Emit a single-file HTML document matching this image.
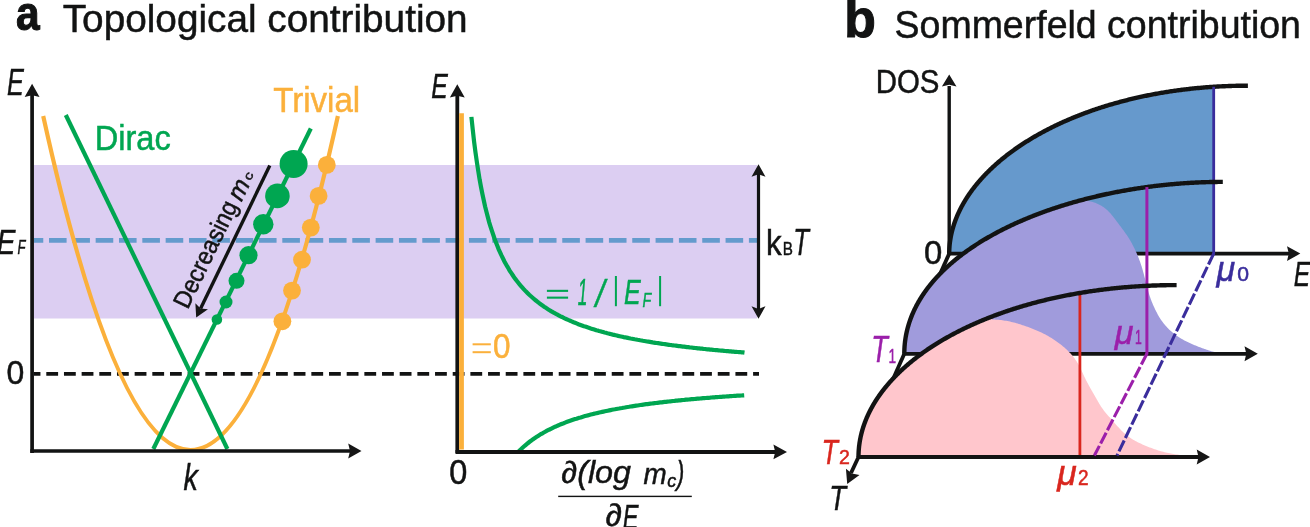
<!DOCTYPE html>
<html><head><meta charset="utf-8"><style>
html,body{margin:0;padding:0;background:#fff;}
svg{display:block;will-change:transform;}
text{font-family:"Liberation Sans",sans-serif;font-kerning:normal;stroke-width:0.5px;}
</style></head><body>
<svg width="1310" height="527" viewBox="0 0 1310 527">
<rect width="1310" height="527" fill="#fff"/>
<rect x="34" y="165" width="723" height="153.5" fill="#DCCEF2"/>
<line x1="34" y1="240.45" x2="757" y2="240.45" stroke="#649BCD" stroke-width="4.7" stroke-dasharray="17.6 5.73" stroke-dashoffset="8.33"/>
<line x1="34" y1="373.9" x2="759" y2="373.9" stroke="#121313" stroke-width="3.7" stroke-dasharray="11.8 5.87" stroke-dashoffset="5.37"/>
<line x1="32.1" y1="453" x2="32.1" y2="94" stroke="#121313" stroke-width="3.7"/>
<path transform="translate(32.10,83.70) rotate(-90.00)" d="M0,0 L-13.3,-7.45 L-11.5,0 L-13.3,7.45 Z" fill="#161616"/>
<path d="M43.20,116 Q190.54,784.00 337.88,116" fill="none" stroke="#FBB03B" stroke-width="4.2"/>
<line x1="65.8" y1="115" x2="227.4" y2="449" stroke="#00A651" stroke-width="4.2"/>
<line x1="153.3" y1="449" x2="310.8" y2="128.5" stroke="#00A651" stroke-width="4.2"/>
<circle cx="293.6" cy="164.0" r="14" fill="#00A651"/>
<circle cx="277.4" cy="195.9" r="12.3" fill="#00A651"/>
<circle cx="263.3" cy="224.3" r="10.2" fill="#00A651"/>
<circle cx="248.5" cy="255.2" r="9.1" fill="#00A651"/>
<circle cx="236.5" cy="280.8" r="8" fill="#00A651"/>
<circle cx="226.0" cy="302.0" r="6.5" fill="#00A651"/>
<circle cx="216.9" cy="319.5" r="5.3" fill="#00A651"/>
<circle cx="326.8" cy="164.9" r="8.9" fill="#FBB03B"/>
<circle cx="318.6" cy="195.9" r="8.9" fill="#FBB03B"/>
<circle cx="310.8" cy="227.6" r="8.9" fill="#FBB03B"/>
<circle cx="302.0" cy="259.7" r="8.9" fill="#FBB03B"/>
<circle cx="292.0" cy="290.6" r="8.9" fill="#FBB03B"/>
<circle cx="282.4" cy="321.3" r="8.9" fill="#FBB03B"/>
<line x1="30.3" y1="451" x2="352" y2="451" stroke="#121313" stroke-width="3.6"/>
<path transform="translate(361.50,451.00) rotate(0.00)" d="M0,0 L-13.3,-7.45 L-11.5,0 L-13.3,7.45 Z" fill="#161616"/>
<line x1="269.8" y1="165.5" x2="200.6" y2="308.6" stroke="#121313" stroke-width="3.4"/>
<path transform="translate(196.20,317.50) rotate(115.90)" d="M0,0 L-12.5,-7 L-10.0,0 L-12.5,7 Z" fill="#161616"/>
<line x1="457.3" y1="453" x2="457.3" y2="95" stroke="#121313" stroke-width="3.8"/>
<path transform="translate(457.30,84.30) rotate(-90.00)" d="M0,0 L-13.3,-7.45 L-11.5,0 L-13.3,7.45 Z" fill="#161616"/>
<line x1="461.5" y1="113.2" x2="461.5" y2="449.5" stroke="#FBB03B" stroke-width="4.8"/>
<polyline fill="none" stroke="#00A651" stroke-width="4.2" points="471.4,116.9 472.8,130.0 474.1,141.8 475.5,152.6 476.9,162.3 478.3,171.3 479.6,179.5 481.0,187.0 482.4,194.0 483.8,200.5 485.1,206.5 486.5,212.1 487.9,217.4 489.2,222.3 490.6,226.9 492.0,231.2 493.4,235.3 494.7,239.2 496.1,242.8 497.5,246.3 498.8,249.6 500.2,252.7 501.6,255.7 503.0,258.5 504.3,261.2 505.7,263.7 507.1,266.2 508.5,268.5 509.8,270.8 511.2,272.9 512.6,275.0 513.9,277.0 515.3,278.9 516.7,280.7 518.1,282.5 519.4,284.2 520.8,285.8 522.2,287.4 523.5,288.9 524.9,290.4 526.3,291.8 527.7,293.2 529.0,294.5 530.4,295.8 531.8,297.0 533.2,298.2 534.5,299.4 535.9,300.5 537.3,301.6 538.6,302.7 540.0,303.7 541.4,304.7 542.8,305.7 544.1,306.7 545.5,307.6 546.9,308.5 548.3,309.4 549.6,310.2 551.0,311.1 552.4,311.9 553.7,312.7 555.1,313.4 556.5,314.2 557.9,314.9 559.2,315.7 560.6,316.4 562.0,317.0 563.3,317.7 564.7,318.4 566.1,319.0 567.5,319.6 568.8,320.2 570.2,320.8 571.6,321.4 573.0,322.0 574.3,322.6 575.7,323.1 577.1,323.6 578.4,324.2 579.8,324.7 581.2,325.2 582.6,325.7 583.9,326.2 585.3,326.6 586.7,327.1 588.1,327.6 589.4,328.0 590.8,328.5 592.2,328.9 593.5,329.3 594.9,329.7 596.3,330.2 597.7,330.6 599.0,331.0 600.4,331.3 601.8,331.7 603.1,332.1 604.5,332.5 605.9,332.8 607.3,333.2 608.6,333.5 610.0,333.9 611.4,334.2 612.8,334.6 614.1,334.9 615.5,335.2 616.9,335.5 618.2,335.9 619.6,336.2 621.0,336.5 622.4,336.8 623.7,337.1 625.1,337.3 626.5,337.6 627.8,337.9 629.2,338.2 630.6,338.5 632.0,338.7 633.3,339.0 634.7,339.3 636.1,339.5 637.5,339.8 638.8,340.0 640.2,340.3 641.6,340.5 642.9,340.8 644.3,341.0 645.7,341.2 647.1,341.5 648.4,341.7 649.8,341.9 651.2,342.1 652.6,342.4 653.9,342.6 655.3,342.8 656.7,343.0 658.0,343.2 659.4,343.4 660.8,343.6 662.2,343.8 663.5,344.0 664.9,344.2 666.3,344.4 667.6,344.6 669.0,344.8 670.4,345.0 671.8,345.2 673.1,345.3 674.5,345.5 675.9,345.7 677.3,345.9 678.6,346.1 680.0,346.2 681.4,346.4 682.7,346.6 684.1,346.7 685.5,346.9 686.9,347.1 688.2,347.2 689.6,347.4 691.0,347.5 692.4,347.7 693.7,347.8 695.1,348.0 696.5,348.1 697.8,348.3 699.2,348.4 700.6,348.6 702.0,348.7 703.3,348.9 704.7,349.0 706.1,349.2 707.4,349.3 708.8,349.4 710.2,349.6 711.6,349.7 712.9,349.8 714.3,350.0 715.7,350.1 717.1,350.2 718.4,350.3 719.8,350.5 721.2,350.6 722.5,350.7 723.9,350.8 725.3,351.0 726.7,351.1 728.0,351.2 729.4,351.3 730.8,351.4 732.1,351.6 733.5,351.7 734.9,351.8 736.3,351.9 737.6,352.0 739.0,352.1 740.4,352.2 741.8,352.3 743.1,352.4 744.5,352.6"/>
<polyline fill="none" stroke="#00A651" stroke-width="4.2" points="518.2,452.0 519.6,450.6 521.0,449.2 522.5,447.8 523.9,446.5 525.3,445.3 526.7,444.1 528.1,443.0 529.6,441.8 531.0,440.8 532.4,439.7 533.8,438.7 535.3,437.7 536.7,436.8 538.1,435.9 539.5,435.0 540.9,434.1 542.4,433.3 543.8,432.5 545.2,431.7 546.6,430.9 548.0,430.2 549.5,429.5 550.9,428.8 552.3,428.1 553.7,427.4 555.2,426.7 556.6,426.1 558.0,425.5 559.4,424.9 560.8,424.3 562.3,423.7 563.7,423.2 565.1,422.6 566.5,422.1 567.9,421.6 569.4,421.1 570.8,420.6 572.2,420.1 573.6,419.6 575.1,419.1 576.5,418.7 577.9,418.2 579.3,417.8 580.7,417.4 582.2,416.9 583.6,416.5 585.0,416.1 586.4,415.7 587.8,415.4 589.3,415.0 590.7,414.6 592.1,414.2 593.5,413.9 595.0,413.5 596.4,413.2 597.8,412.9 599.2,412.5 600.6,412.2 602.1,411.9 603.5,411.6 604.9,411.3 606.3,411.0 607.7,410.7 609.2,410.4 610.6,410.1 612.0,409.8 613.4,409.5 614.9,409.3 616.3,409.0 617.7,408.7 619.1,408.5 620.5,408.2 622.0,408.0 623.4,407.7 624.8,407.5 626.2,407.2 627.6,407.0 629.1,406.8 630.5,406.5 631.9,406.3 633.3,406.1 634.8,405.9 636.2,405.7 637.6,405.5 639.0,405.2 640.4,405.0 641.9,404.8 643.3,404.6 644.7,404.4 646.1,404.2 647.5,404.1 649.0,403.9 650.4,403.7 651.8,403.5 653.2,403.3 654.7,403.1 656.1,403.0 657.5,402.8 658.9,402.6 660.3,402.4 661.8,402.3 663.2,402.1 664.6,401.9 666.0,401.8 667.4,401.6 668.9,401.5 670.3,401.3 671.7,401.2 673.1,401.0 674.6,400.9 676.0,400.7 677.4,400.6 678.8,400.4 680.2,400.3 681.7,400.1 683.1,400.0 684.5,399.9 685.9,399.7 687.3,399.6 688.8,399.5 690.2,399.3 691.6,399.2 693.0,399.1 694.5,399.0 695.9,398.8 697.3,398.7 698.7,398.6 700.1,398.5 701.6,398.3 703.0,398.2 704.4,398.1 705.8,398.0 707.2,397.9 708.7,397.8 710.1,397.7 711.5,397.5 712.9,397.4 714.4,397.3 715.8,397.2 717.2,397.1 718.6,397.0 720.0,396.9 721.5,396.8 722.9,396.7 724.3,396.6 725.7,396.5 727.1,396.4 728.6,396.3 730.0,396.2 731.4,396.1 732.8,396.0 734.3,395.9 735.7,395.8 737.1,395.7 738.5,395.6 739.9,395.6 741.4,395.5 742.8,395.4 744.2,395.3"/>
<line x1="455.5" y1="451.9" x2="777" y2="451.9" stroke="#121313" stroke-width="4.0"/>
<path transform="translate(787.00,451.90) rotate(0.00)" d="M0,0 L-13.6,-7.3 L-11.799999999999999,0 L-13.6,7.3 Z" fill="#161616"/>
<line x1="758.5" y1="172" x2="758.5" y2="311" stroke="#121313" stroke-width="3.2"/>
<path transform="translate(758.50,164.30) rotate(-90.00)" d="M0,0 L-12.5,-7 L-9.9,0 L-12.5,7 Z" fill="#161616"/>
<path transform="translate(758.50,318.80) rotate(90.00)" d="M0,0 L-12.5,-7 L-9.9,0 L-12.5,7 Z" fill="#161616"/>
<text transform="translate(15.933,29.656) scale(0.85344,0.97589)" style="font-size:49.831px;fill:#121313;stroke:#121313;font-weight:bold;stroke-width:1.1px;">a</text>
<text transform="translate(62.719,31.817) scale(0.99488,1.00000)" style="font-size:38.953px;fill:#121313;stroke:#121313;">Topological contribution</text>
<text transform="translate(6.968,95.200) scale(0.66882,1.00000)" style="font-size:37.791px;fill:#121313;stroke:#121313;font-style:italic;">E</text>
<text transform="translate(94.676,149.764) scale(0.91974,1.00000)" style="font-size:35.465px;fill:#00A651;stroke:#00A651;">Dirac</text>
<text transform="translate(273.265,112.057) scale(0.94370,0.98803)" style="font-size:35.029px;fill:#FBB03B;stroke:#FBB03B;">Trivial</text>
<text transform="translate(-3.128,253.502) scale(0.76070,0.97560)" style="font-size:36.774px;fill:#121313;stroke:#121313;font-style:italic;">E</text>
<text transform="translate(17.562,254.300) scale(0.63349,1.00000)" style="font-size:20.640px;fill:#121313;stroke:#121313;font-style:italic;">F</text>
<text transform="translate(6.458,384.439) scale(0.95678,1.00000)" style="font-size:33.474px;fill:#121313;stroke:#121313;">0</text>
<text transform="translate(183.405,490.344) scale(0.76071,1.00000)" style="font-size:37.675px;fill:#121313;stroke:#121313;font-style:italic;">k</text>
<text transform="translate(431.238,97.685) scale(0.67508,0.97560)" style="font-size:36.774px;fill:#121313;stroke:#121313;font-style:italic;">E</text>
<rect x="546.9" y="289.8" width="21.2" height="2.1" fill="#00A651"/>
<rect x="546.9" y="296.6" width="21.2" height="2.1" fill="#00A651"/>
<text transform="translate(577.794,304.775) scale(0.47272,0.98023)" style="font-size:36.774px;fill:#00A651;stroke:#00A651;font-style:italic;">1</text>
<text transform="translate(595.394,307.374) scale(0.86026,1.00000)" style="font-size:38.536px;fill:#00A651;stroke:#00A651;font-style:italic;">/</text>
<rect x="614.9" y="276" width="2" height="30.2" fill="#00A651"/>
<text transform="translate(624.034,303.876) scale(0.68073,0.97560)" style="font-size:36.774px;fill:#00A651;stroke:#00A651;font-style:italic;">E</text>
<text transform="translate(642.523,307.347) scale(0.68028,1.00000)" style="font-size:20.931px;fill:#00A651;stroke:#00A651;font-style:italic;">F</text>
<rect x="659.1" y="276" width="2" height="30.2" fill="#00A651"/>
<rect x="472.6" y="343.3" width="18.2" height="2.0" fill="#FBB03B"/>
<rect x="472.6" y="351.2" width="18.2" height="2.0" fill="#FBB03B"/>
<text transform="translate(492.928,358.405) scale(0.91675,1.00000)" style="font-size:34.322px;fill:#FBB03B;stroke:#FBB03B;">0</text>
<text transform="translate(449.337,483.957) scale(0.93448,1.00000)" style="font-size:34.745px;fill:#121313;stroke:#121313;">0</text>
<text transform="translate(561.264,483.499) scale(1.00888,0.96157)" style="font-size:32.000px;fill:#121313;stroke:#121313;font-style:italic;">∂(log</text>
<text transform="translate(643.580,484.096) scale(0.92874,1.00000)" style="font-size:30.000px;fill:#121313;stroke:#121313;font-style:italic;">m</text>
<text transform="translate(667.244,486.830) scale(0.96720,1.00000)" style="font-size:18.618px;fill:#121313;stroke:#121313;font-style:italic;">c</text>
<text transform="translate(676.849,483.682) scale(0.68611,1.00000)" style="font-size:33.275px;fill:#121313;stroke:#121313;font-style:italic;">)</text>
<rect x="558.2" y="495.7" width="133.6" height="1.4" fill="#121313"/>
<text transform="translate(605.415,526.218) scale(1.01345,0.95727)" style="font-size:32.817px;fill:#121313;stroke:#121313;font-style:italic;">∂</text>
<text transform="translate(622.755,528.502) scale(0.64184,0.97560)" style="font-size:36.774px;fill:#121313;stroke:#121313;font-style:italic;">E</text>
<text transform="translate(766.110,255.428) scale(0.88859,0.97097)" style="font-size:35.329px;fill:#121313;stroke:#121313;">k</text>
<text transform="translate(782.804,255.285) scale(0.76027,0.94276)" style="font-size:20.058px;fill:#121313;stroke:#121313;">B</text>
<text transform="translate(793.193,255.428) scale(0.68898,0.97097)" style="font-size:37.210px;fill:#121313;stroke:#121313;font-style:italic;">T</text>
<g transform="translate(188.5,308.3) rotate(-64.1)"><text transform="translate(-1.881,0.000) scale(0.91701,1.00000)" style="font-size:25.000px;fill:#121313;stroke:#121313;">Decreasing</text><text transform="translate(118.590,1.300) scale(0.98699,1.00000)" style="font-size:25.000px;fill:#121313;stroke:#121313;font-style:italic;">m</text><text transform="translate(141.350,0.279) scale(1.23330,1.00000)" style="font-size:12.412px;fill:#121313;stroke:#121313;">c</text></g>
<polygon fill="#6699CC" points="949.20,253.80 949.20,253.14 949.21,252.49 949.22,251.83 949.24,251.17 949.26,250.52 949.29,249.86 949.32,249.21 949.35,248.55 949.39,247.90 949.44,247.24 949.49,246.59 949.54,245.93 949.60,245.28 949.66,244.63 949.73,243.98 949.81,243.32 949.88,242.67 949.97,242.02 950.05,241.37 950.14,240.72 950.24,240.07 950.34,239.42 950.45,238.77 950.56,238.12 950.67,237.47 950.79,236.82 950.92,236.17 951.04,235.52 951.18,234.88 951.31,234.23 951.46,233.58 951.60,232.94 951.75,232.29 951.91,231.65 952.07,231.00 952.23,230.36 952.40,229.72 952.58,229.07 952.76,228.43 952.94,227.79 953.13,227.15 953.32,226.51 953.51,225.87 953.71,225.23 953.92,224.59 954.13,223.95 954.34,223.31 954.56,222.68 954.78,222.04 955.01,221.40 955.24,220.77 955.48,220.13 955.72,219.50 955.96,218.87 956.21,218.23 956.46,217.60 956.72,216.97 956.98,216.34 957.25,215.71 957.52,215.08 957.79,214.45 958.07,213.82 958.36,213.19 958.64,212.57 958.94,211.94 959.23,211.31 959.53,210.69 959.84,210.06 960.15,209.44 960.46,208.82 960.78,208.20 961.10,207.58 961.42,206.95 961.75,206.33 962.09,205.72 962.43,205.10 962.77,204.48 963.12,203.86 963.47,203.25 963.82,202.63 964.18,202.02 964.55,201.41 964.92,200.79 965.29,200.18 965.66,199.57 966.04,198.96 966.43,198.35 966.82,197.74 967.21,197.14 967.60,196.53 968.01,195.92 968.41,195.32 968.82,194.71 969.23,194.11 969.65,193.51 970.07,192.91 970.49,192.31 970.92,191.71 971.36,191.11 971.79,190.51 972.24,189.92 972.68,189.32 973.13,188.73 973.58,188.13 974.04,187.54 974.50,186.95 974.97,186.36 975.43,185.77 975.91,185.18 976.38,184.59 976.86,184.01 977.35,183.42 977.84,182.84 978.33,182.25 978.83,181.67 979.33,181.09 979.83,180.51 980.34,179.93 980.85,179.35 981.37,178.77 981.89,178.20 982.41,177.62 982.94,177.05 983.47,176.48 984.00,175.91 984.54,175.33 985.08,174.77 985.63,174.20 986.18,173.63 986.73,173.06 987.29,172.50 987.85,171.94 988.42,171.37 988.99,170.81 989.56,170.25 990.14,169.69 990.72,169.14 991.30,168.58 991.89,168.03 992.48,167.47 993.07,166.92 993.67,166.37 994.28,165.82 994.88,165.27 995.49,164.72 996.10,164.17 996.72,163.63 997.34,163.08 997.97,162.54 998.59,162.00 999.23,161.46 999.86,160.92 1000.50,160.39 1001.14,159.85 1001.79,159.31 1002.44,158.78 1003.09,158.25 1003.75,157.72 1004.41,157.19 1005.07,156.66 1005.74,156.13 1006.41,155.61 1007.09,155.09 1007.76,154.56 1008.44,154.04 1009.13,153.52 1009.82,153.00 1010.51,152.49 1011.21,151.97 1011.90,151.46 1012.61,150.95 1013.31,150.43 1014.02,149.92 1014.73,149.42 1015.45,148.91 1016.17,148.40 1016.89,147.90 1017.62,147.40 1018.35,146.90 1019.08,146.40 1019.82,145.90 1020.56,145.41 1021.30,144.91 1022.05,144.42 1022.80,143.93 1023.55,143.44 1024.31,142.95 1025.07,142.46 1025.83,141.97 1026.60,141.49 1027.37,141.01 1028.14,140.53 1028.92,140.05 1029.70,139.57 1030.48,139.10 1031.27,138.62 1032.06,138.15 1032.85,137.68 1033.65,137.21 1034.45,136.74 1035.25,136.28 1036.06,135.81 1036.87,135.35 1037.68,134.89 1038.50,134.43 1039.32,133.97 1040.14,133.51 1040.96,133.06 1041.79,132.61 1042.62,132.16 1043.46,131.71 1044.30,131.26 1045.14,130.81 1045.98,130.37 1046.83,129.93 1047.68,129.49 1048.53,129.05 1049.39,128.61 1050.25,128.18 1051.11,127.74 1051.98,127.31 1052.85,126.88 1053.72,126.45 1054.59,126.03 1055.47,125.60 1056.35,125.18 1057.24,124.76 1058.13,124.34 1059.02,123.93 1059.91,123.51 1060.81,123.10 1061.71,122.69 1062.61,122.28 1063.51,121.87 1064.42,121.46 1065.33,121.06 1066.25,120.66 1067.16,120.26 1068.08,119.86 1069.01,119.46 1069.93,119.07 1070.86,118.68 1071.79,118.29 1072.73,117.90 1073.67,117.51 1074.61,117.13 1075.55,116.74 1076.50,116.36 1077.45,115.98 1078.40,115.61 1079.35,115.23 1080.31,114.86 1081.27,114.49 1082.24,114.12 1083.20,113.76 1084.17,113.39 1085.14,113.03 1086.12,112.67 1087.10,112.31 1088.08,111.95 1089.06,111.60 1090.04,111.25 1091.03,110.90 1092.02,110.55 1093.02,110.20 1094.01,109.86 1095.01,109.52 1096.02,109.18 1097.02,108.84 1098.03,108.51 1099.04,108.17 1100.05,107.84 1101.07,107.51 1102.09,107.19 1103.11,106.86 1104.13,106.54 1105.16,106.22 1106.19,105.90 1107.22,105.59 1108.25,105.27 1109.29,104.96 1110.33,104.65 1111.37,104.34 1112.42,104.04 1113.46,103.74 1114.51,103.44 1115.57,103.14 1116.62,102.84 1117.68,102.55 1118.74,102.26 1119.80,101.97 1120.87,101.68 1121.94,101.40 1123.01,101.12 1124.08,100.84 1125.15,100.56 1126.23,100.29 1127.31,100.01 1128.39,99.74 1129.48,99.47 1130.57,99.21 1131.66,98.95 1132.75,98.68 1133.85,98.43 1134.94,98.17 1136.04,97.92 1137.15,97.66 1138.25,97.42 1139.36,97.17 1140.47,96.92 1141.58,96.68 1142.69,96.44 1143.81,96.21 1144.93,95.97 1146.05,95.74 1147.18,95.51 1148.30,95.28 1149.43,95.06 1150.56,94.84 1151.69,94.62 1152.83,94.40 1153.97,94.18 1155.11,93.97 1156.25,93.76 1157.39,93.56 1158.54,93.35 1159.69,93.15 1160.84,92.95 1162.00,92.75 1163.15,92.56 1164.31,92.37 1165.47,92.18 1166.63,91.99 1167.80,91.81 1168.97,91.62 1170.13,91.44 1171.31,91.27 1172.48,91.09 1173.66,90.92 1174.83,90.75 1176.01,90.59 1177.20,90.43 1178.38,90.26 1179.57,90.11 1180.76,89.95 1181.95,89.80 1183.14,89.65 1184.34,89.50 1185.53,89.36 1186.73,89.21 1187.93,89.07 1189.14,88.94 1190.34,88.80 1191.55,88.67 1192.76,88.54 1193.97,88.42 1195.18,88.30 1196.40,88.18 1197.62,88.06 1198.84,87.94 1200.06,87.83 1201.28,87.72 1202.51,87.62 1203.74,87.51 1204.97,87.41 1206.20,87.31 1207.43,87.22 1208.67,87.13 1209.91,87.04 1211.15,86.95 1212.39,86.87 1213.63,86.79 1213.7,86.78 1213.7,253.6 949.2,253.6"/>
<polyline fill="none" stroke="#121313" stroke-width="4.4" points="949.20,253.80 949.20,253.14 949.21,252.49 949.22,251.83 949.24,251.17 949.26,250.52 949.29,249.86 949.32,249.21 949.35,248.55 949.39,247.90 949.44,247.24 949.49,246.59 949.54,245.93 949.60,245.28 949.66,244.63 949.73,243.98 949.81,243.32 949.88,242.67 949.97,242.02 950.05,241.37 950.14,240.72 950.24,240.07 950.34,239.42 950.45,238.77 950.56,238.12 950.67,237.47 950.79,236.82 950.92,236.17 951.04,235.52 951.18,234.88 951.31,234.23 951.46,233.58 951.60,232.94 951.75,232.29 951.91,231.65 952.07,231.00 952.23,230.36 952.40,229.72 952.58,229.07 952.76,228.43 952.94,227.79 953.13,227.15 953.32,226.51 953.51,225.87 953.71,225.23 953.92,224.59 954.13,223.95 954.34,223.31 954.56,222.68 954.78,222.04 955.01,221.40 955.24,220.77 955.48,220.13 955.72,219.50 955.96,218.87 956.21,218.23 956.46,217.60 956.72,216.97 956.98,216.34 957.25,215.71 957.52,215.08 957.79,214.45 958.07,213.82 958.36,213.19 958.64,212.57 958.94,211.94 959.23,211.31 959.53,210.69 959.84,210.06 960.15,209.44 960.46,208.82 960.78,208.20 961.10,207.58 961.42,206.95 961.75,206.33 962.09,205.72 962.43,205.10 962.77,204.48 963.12,203.86 963.47,203.25 963.82,202.63 964.18,202.02 964.55,201.41 964.92,200.79 965.29,200.18 965.66,199.57 966.04,198.96 966.43,198.35 966.82,197.74 967.21,197.14 967.60,196.53 968.01,195.92 968.41,195.32 968.82,194.71 969.23,194.11 969.65,193.51 970.07,192.91 970.49,192.31 970.92,191.71 971.36,191.11 971.79,190.51 972.24,189.92 972.68,189.32 973.13,188.73 973.58,188.13 974.04,187.54 974.50,186.95 974.97,186.36 975.43,185.77 975.91,185.18 976.38,184.59 976.86,184.01 977.35,183.42 977.84,182.84 978.33,182.25 978.83,181.67 979.33,181.09 979.83,180.51 980.34,179.93 980.85,179.35 981.37,178.77 981.89,178.20 982.41,177.62 982.94,177.05 983.47,176.48 984.00,175.91 984.54,175.33 985.08,174.77 985.63,174.20 986.18,173.63 986.73,173.06 987.29,172.50 987.85,171.94 988.42,171.37 988.99,170.81 989.56,170.25 990.14,169.69 990.72,169.14 991.30,168.58 991.89,168.03 992.48,167.47 993.07,166.92 993.67,166.37 994.28,165.82 994.88,165.27 995.49,164.72 996.10,164.17 996.72,163.63 997.34,163.08 997.97,162.54 998.59,162.00 999.23,161.46 999.86,160.92 1000.50,160.39 1001.14,159.85 1001.79,159.31 1002.44,158.78 1003.09,158.25 1003.75,157.72 1004.41,157.19 1005.07,156.66 1005.74,156.13 1006.41,155.61 1007.09,155.09 1007.76,154.56 1008.44,154.04 1009.13,153.52 1009.82,153.00 1010.51,152.49 1011.21,151.97 1011.90,151.46 1012.61,150.95 1013.31,150.43 1014.02,149.92 1014.73,149.42 1015.45,148.91 1016.17,148.40 1016.89,147.90 1017.62,147.40 1018.35,146.90 1019.08,146.40 1019.82,145.90 1020.56,145.41 1021.30,144.91 1022.05,144.42 1022.80,143.93 1023.55,143.44 1024.31,142.95 1025.07,142.46 1025.83,141.97 1026.60,141.49 1027.37,141.01 1028.14,140.53 1028.92,140.05 1029.70,139.57 1030.48,139.10 1031.27,138.62 1032.06,138.15 1032.85,137.68 1033.65,137.21 1034.45,136.74 1035.25,136.28 1036.06,135.81 1036.87,135.35 1037.68,134.89 1038.50,134.43 1039.32,133.97 1040.14,133.51 1040.96,133.06 1041.79,132.61 1042.62,132.16 1043.46,131.71 1044.30,131.26 1045.14,130.81 1045.98,130.37 1046.83,129.93 1047.68,129.49 1048.53,129.05 1049.39,128.61 1050.25,128.18 1051.11,127.74 1051.98,127.31 1052.85,126.88 1053.72,126.45 1054.59,126.03 1055.47,125.60 1056.35,125.18 1057.24,124.76 1058.13,124.34 1059.02,123.93 1059.91,123.51 1060.81,123.10 1061.71,122.69 1062.61,122.28 1063.51,121.87 1064.42,121.46 1065.33,121.06 1066.25,120.66 1067.16,120.26 1068.08,119.86 1069.01,119.46 1069.93,119.07 1070.86,118.68 1071.79,118.29 1072.73,117.90 1073.67,117.51 1074.61,117.13 1075.55,116.74 1076.50,116.36 1077.45,115.98 1078.40,115.61 1079.35,115.23 1080.31,114.86 1081.27,114.49 1082.24,114.12 1083.20,113.76 1084.17,113.39 1085.14,113.03 1086.12,112.67 1087.10,112.31 1088.08,111.95 1089.06,111.60 1090.04,111.25 1091.03,110.90 1092.02,110.55 1093.02,110.20 1094.01,109.86 1095.01,109.52 1096.02,109.18 1097.02,108.84 1098.03,108.51 1099.04,108.17 1100.05,107.84 1101.07,107.51 1102.09,107.19 1103.11,106.86 1104.13,106.54 1105.16,106.22 1106.19,105.90 1107.22,105.59 1108.25,105.27 1109.29,104.96 1110.33,104.65 1111.37,104.34 1112.42,104.04 1113.46,103.74 1114.51,103.44 1115.57,103.14 1116.62,102.84 1117.68,102.55 1118.74,102.26 1119.80,101.97 1120.87,101.68 1121.94,101.40 1123.01,101.12 1124.08,100.84 1125.15,100.56 1126.23,100.29 1127.31,100.01 1128.39,99.74 1129.48,99.47 1130.57,99.21 1131.66,98.95 1132.75,98.68 1133.85,98.43 1134.94,98.17 1136.04,97.92 1137.15,97.66 1138.25,97.42 1139.36,97.17 1140.47,96.92 1141.58,96.68 1142.69,96.44 1143.81,96.21 1144.93,95.97 1146.05,95.74 1147.18,95.51 1148.30,95.28 1149.43,95.06 1150.56,94.84 1151.69,94.62 1152.83,94.40 1153.97,94.18 1155.11,93.97 1156.25,93.76 1157.39,93.56 1158.54,93.35 1159.69,93.15 1160.84,92.95 1162.00,92.75 1163.15,92.56 1164.31,92.37 1165.47,92.18 1166.63,91.99 1167.80,91.81 1168.97,91.62 1170.13,91.44 1171.31,91.27 1172.48,91.09 1173.66,90.92 1174.83,90.75 1176.01,90.59 1177.20,90.43 1178.38,90.26 1179.57,90.11 1180.76,89.95 1181.95,89.80 1183.14,89.65 1184.34,89.50 1185.53,89.36 1186.73,89.21 1187.93,89.07 1189.14,88.94 1190.34,88.80 1191.55,88.67 1192.76,88.54 1193.97,88.42 1195.18,88.30 1196.40,88.18 1197.62,88.06 1198.84,87.94 1200.06,87.83 1201.28,87.72 1202.51,87.62 1203.74,87.51 1204.97,87.41 1206.20,87.31 1207.43,87.22 1208.67,87.13 1209.91,87.04 1211.15,86.95 1212.39,86.87 1213.63,86.79 1214.88,86.71 1216.12,86.63 1217.37,86.56 1218.62,86.49 1219.88,86.42 1221.13,86.36 1222.39,86.30 1223.65,86.24 1224.91,86.19 1226.17,86.13 1227.43,86.08 1228.70,86.04 1229.97,85.99 1231.24,85.95 1232.51,85.92 1233.78,85.88 1235.05,85.85 1236.33,85.82 1237.61,85.80 1238.89,85.77 1240.17,85.75 1241.46,85.74 1242.74,85.72 1244.03,85.71 1245.32,85.71 1246.61,85.70 1247.90,85.70"/>
<line x1="949.2" y1="255.1" x2="949.2" y2="86" stroke="#121313" stroke-width="3.4"/>
<path transform="translate(949.20,74.60) rotate(-90.00)" d="M0,0 L-12,-7.3 L-10.2,0 L-12,7.3 Z" fill="#161616"/>
<line x1="948.2" y1="253.6" x2="1290" y2="253.6" stroke="#121313" stroke-width="3.8"/>
<path transform="translate(1300.30,253.60) rotate(0.00)" d="M0,0 L-13.3,-7.45 L-11.5,0 L-13.3,7.45 Z" fill="#161616"/>
<line x1="1213.7" y1="86.78" x2="1213.7" y2="254.1" stroke="#3A2D9C" stroke-width="2.8"/>
<line x1="949.2" y1="253.6" x2="904.3" y2="353.8" stroke="#121313" stroke-width="3.8"/>
<polygon fill="#A09BDC" points="904.30,353.80 904.30,353.01 904.31,352.22 904.33,351.43 904.35,350.65 904.38,349.86 904.41,349.08 904.45,348.30 904.49,347.52 904.55,346.74 904.60,345.96 904.67,345.19 904.74,344.41 904.81,343.64 904.89,342.87 904.98,342.10 905.07,341.33 905.17,340.57 905.28,339.80 905.39,339.04 905.50,338.27 905.62,337.51 905.75,336.75 905.89,336.00 906.02,335.24 906.17,334.49 906.32,333.73 906.48,332.98 906.64,332.23 906.81,331.48 906.98,330.74 907.16,329.99 907.34,329.25 907.54,328.50 907.73,327.76 907.93,327.02 908.14,326.29 908.35,325.55 908.57,324.81 908.79,324.08 909.02,323.35 909.26,322.62 909.50,321.89 909.74,321.16 910.00,320.44 910.25,319.72 910.51,318.99 910.78,318.27 911.05,317.55 911.33,316.84 911.61,316.12 911.90,315.41 912.20,314.69 912.50,313.98 912.80,313.27 913.11,312.56 913.43,311.86 913.75,311.15 914.07,310.45 914.40,309.75 914.74,309.05 915.08,308.35 915.42,307.65 915.78,306.96 916.13,306.27 916.49,305.57 916.86,304.88 917.23,304.19 917.61,303.51 917.99,302.82 918.38,302.14 918.77,301.46 919.17,300.78 919.57,300.10 919.97,299.42 920.39,298.74 920.80,298.07 921.22,297.40 921.65,296.73 922.08,296.06 922.52,295.39 922.96,294.73 923.40,294.06 923.85,293.40 924.31,292.74 924.77,292.08 925.23,291.42 925.70,290.77 926.18,290.11 926.66,289.46 927.14,288.81 927.63,288.16 928.12,287.52 928.62,286.87 929.12,286.23 929.63,285.59 930.14,284.95 930.66,284.31 931.18,283.67 931.70,283.03 932.23,282.40 932.77,281.77 933.31,281.14 933.85,280.51 934.40,279.88 934.95,279.26 935.51,278.64 936.07,278.02 936.63,277.40 937.20,276.78 937.78,276.16 938.36,275.55 938.94,274.93 939.53,274.32 940.12,273.71 940.72,273.11 941.32,272.50 941.92,271.90 942.53,271.30 943.14,270.70 943.76,270.10 944.38,269.50 945.01,268.91 945.64,268.31 946.27,267.72 946.91,267.13 947.55,266.54 948.20,265.96 948.85,265.37 949.50,264.79 950.16,264.21 950.83,263.63 951.49,263.05 952.16,262.48 952.84,261.90 953.52,261.33 954.20,260.76 954.89,260.19 955.58,259.63 956.27,259.06 956.97,258.50 957.67,257.94 958.38,257.38 959.09,256.82 959.80,256.27 960.52,255.72 961.24,255.16 961.97,254.61 962.70,254.07 963.43,253.52 964.17,252.98 964.91,252.43 965.65,251.89 966.40,251.35 967.15,250.82 967.91,250.28 968.66,249.75 969.43,249.22 970.19,248.69 970.96,248.16 971.74,247.63 972.51,247.11 973.29,246.59 974.08,246.07 974.86,245.55 975.66,245.03 976.45,244.52 977.25,244.01 978.05,243.50 978.85,242.99 979.66,242.48 980.47,241.98 981.29,241.47 982.11,240.97 982.93,240.47 983.76,239.98 984.58,239.48 985.42,238.99 986.25,238.50 987.09,238.01 987.93,237.52 988.78,237.03 989.62,236.55 990.48,236.07 991.33,235.59 992.19,235.11 993.05,234.63 993.91,234.16 994.78,233.69 995.65,233.22 996.52,232.75 997.40,232.28 998.28,231.82 999.16,231.36 1000.05,230.90 1000.94,230.44 1001.83,229.98 1002.72,229.53 1003.62,229.07 1004.52,228.62 1005.43,228.18 1006.33,227.73 1007.24,227.28 1008.16,226.84 1009.07,226.40 1009.99,225.96 1010.91,225.53 1011.83,225.09 1012.76,224.66 1013.69,224.23 1014.62,223.80 1015.56,223.37 1016.50,222.95 1017.44,222.53 1018.38,222.11 1019.33,221.69 1020.28,221.27 1021.23,220.86 1022.18,220.44 1023.14,220.03 1024.10,219.63 1025.06,219.22 1026.02,218.82 1026.99,218.41 1027.96,218.01 1028.93,217.62 1029.91,217.22 1030.89,216.83 1031.87,216.43 1032.85,216.04 1033.83,215.66 1034.82,215.27 1035.81,214.89 1036.80,214.50 1037.80,214.12 1038.79,213.75 1039.79,213.37 1040.80,213.00 1041.80,212.63 1042.81,212.26 1043.82,211.89 1044.83,211.53 1045.84,211.16 1046.86,210.80 1047.87,210.44 1048.89,210.09 1049.92,209.73 1050.94,209.38 1051.97,209.03 1053.00,208.68 1054.03,208.34 1055.06,207.99 1056.10,207.65 1057.13,207.31 1058.17,206.97 1059.21,206.64 1060.26,206.30 1061.30,205.97 1062.35,205.64 1063.40,205.32 1064.45,204.99 1065.51,204.67 1066.56,204.35 1067.62,204.03 1068.68,203.71 1069.74,203.40 1070.80,203.09 1071.87,202.78 1072.94,202.47 1074.01,202.17 1075.08,201.86 1076.15,201.56 1077.22,201.26 1078.30,200.97 1079.38,200.67 1080.46,200.38 1081.40,199.50 1082.57,199.71 1083.74,199.93 1084.90,200.15 1086.06,200.37 1087.22,200.61 1088.37,200.86 1089.52,201.13 1090.66,201.41 1091.79,201.72 1092.91,202.05 1094.02,202.40 1095.13,202.78 1096.21,203.20 1097.29,203.64 1098.35,204.13 1099.39,204.65 1100.42,205.21 1101.43,205.80 1102.43,206.43 1103.40,207.10 1104.35,207.79 1105.28,208.51 1106.19,209.26 1107.08,210.04 1107.94,210.84 1108.78,211.67 1109.59,212.51 1110.38,213.37 1111.15,214.25 1111.91,215.15 1112.65,216.05 1113.38,216.97 1114.10,217.90 1114.81,218.83 1115.51,219.77 1116.22,220.71 1116.92,221.65 1117.62,222.59 1118.32,223.53 1119.03,224.47 1119.74,225.41 1120.44,226.34 1121.15,227.28 1121.85,228.22 1122.55,229.16 1123.25,230.10 1123.94,231.04 1124.62,231.99 1125.30,232.95 1125.97,233.91 1126.63,234.87 1127.29,235.84 1127.93,236.82 1128.56,237.80 1129.17,238.80 1129.78,239.80 1130.37,240.81 1130.96,241.82 1131.53,242.85 1132.09,243.87 1132.64,244.91 1133.18,245.95 1133.71,247.00 1134.23,248.05 1134.75,249.10 1135.25,250.16 1135.74,251.23 1136.23,252.30 1136.70,253.37 1137.17,254.45 1137.62,255.53 1138.07,256.61 1138.51,257.70 1138.93,258.79 1139.35,259.89 1139.76,260.99 1140.15,262.09 1140.54,263.20 1140.92,264.31 1141.29,265.42 1141.65,266.53 1141.99,267.65 1142.33,268.77 1142.66,269.90 1142.97,271.03 1143.28,272.16 1143.58,273.29 1143.88,274.42 1144.16,275.55 1144.45,276.69 1144.73,277.83 1145.01,278.97 1145.29,280.10 1145.56,281.24 1145.85,282.38 1146.13,283.52 1146.42,284.65 1146.71,285.79 1147.01,286.92 1147.31,288.05 1147.62,289.18 1147.94,290.31 1148.26,291.44 1148.59,292.56 1148.94,293.68 1149.29,294.80 1149.65,295.91 1150.03,297.02 1150.41,298.12 1150.81,299.22 1151.23,300.32 1151.65,301.41 1152.08,302.50 1152.53,303.58 1152.99,304.66 1153.46,305.74 1153.94,306.80 1154.43,307.87 1154.93,308.93 1155.44,309.99 1155.96,311.04 1156.49,312.08 1157.04,313.12 1157.59,314.15 1158.16,315.17 1158.75,316.19 1159.35,317.20 1159.97,318.19 1160.60,319.18 1161.26,320.15 1161.93,321.11 1162.62,322.06 1163.34,322.99 1164.07,323.91 1164.82,324.82 1165.59,325.72 1166.37,326.59 1167.17,327.46 1167.99,328.31 1168.82,329.14 1169.67,329.96 1170.54,330.76 1171.42,331.54 1172.31,332.31 1173.22,333.06 1174.14,333.80 1175.07,334.51 1176.01,335.21 1176.97,335.89 1177.94,336.55 1178.92,337.19 1179.90,337.82 1180.90,338.43 1181.91,339.02 1182.93,339.60 1183.95,340.16 1184.99,340.71 1186.03,341.24 1187.08,341.77 1188.13,342.28 1189.20,342.78 1190.26,343.27 1191.34,343.75 1192.41,344.22 1193.50,344.68 1194.58,345.14 1195.68,345.59 1196.77,346.03 1197.87,346.46 1198.96,346.89 1200.06,347.32 1201.17,347.74 1202.27,348.15 1203.38,348.56 1204.49,348.96 1205.60,349.35 1206.71,349.73 1207.82,350.10 1208.94,350.46 1210.06,350.80 1211.19,351.13 1212.32,351.44 1213.45,351.73 1214.58,352.01 1215.72,352.26 1216.86,352.50 1218.01,352.72 1219.16,352.91 1220.31,353.08 1221.47,353.23 1222.63,353.36 1223.80,353.47 1224.97,353.57 1226.13,353.66 1227.31,353.74 1228.48,353.81 1229.65,353.88 1230.83,353.94 1232.00,354.00 904.3,353.8"/>
<polyline fill="none" stroke="#121313" stroke-width="4.4" points="904.30,353.80 904.30,353.01 904.31,352.22 904.33,351.43 904.35,350.65 904.38,349.86 904.41,349.08 904.45,348.30 904.49,347.52 904.55,346.74 904.60,345.96 904.67,345.19 904.74,344.41 904.81,343.64 904.89,342.87 904.98,342.10 905.07,341.33 905.17,340.57 905.28,339.80 905.39,339.04 905.50,338.27 905.62,337.51 905.75,336.75 905.89,336.00 906.02,335.24 906.17,334.49 906.32,333.73 906.48,332.98 906.64,332.23 906.81,331.48 906.98,330.74 907.16,329.99 907.34,329.25 907.54,328.50 907.73,327.76 907.93,327.02 908.14,326.29 908.35,325.55 908.57,324.81 908.79,324.08 909.02,323.35 909.26,322.62 909.50,321.89 909.74,321.16 910.00,320.44 910.25,319.72 910.51,318.99 910.78,318.27 911.05,317.55 911.33,316.84 911.61,316.12 911.90,315.41 912.20,314.69 912.50,313.98 912.80,313.27 913.11,312.56 913.43,311.86 913.75,311.15 914.07,310.45 914.40,309.75 914.74,309.05 915.08,308.35 915.42,307.65 915.78,306.96 916.13,306.27 916.49,305.57 916.86,304.88 917.23,304.19 917.61,303.51 917.99,302.82 918.38,302.14 918.77,301.46 919.17,300.78 919.57,300.10 919.97,299.42 920.39,298.74 920.80,298.07 921.22,297.40 921.65,296.73 922.08,296.06 922.52,295.39 922.96,294.73 923.40,294.06 923.85,293.40 924.31,292.74 924.77,292.08 925.23,291.42 925.70,290.77 926.18,290.11 926.66,289.46 927.14,288.81 927.63,288.16 928.12,287.52 928.62,286.87 929.12,286.23 929.63,285.59 930.14,284.95 930.66,284.31 931.18,283.67 931.70,283.03 932.23,282.40 932.77,281.77 933.31,281.14 933.85,280.51 934.40,279.88 934.95,279.26 935.51,278.64 936.07,278.02 936.63,277.40 937.20,276.78 937.78,276.16 938.36,275.55 938.94,274.93 939.53,274.32 940.12,273.71 940.72,273.11 941.32,272.50 941.92,271.90 942.53,271.30 943.14,270.70 943.76,270.10 944.38,269.50 945.01,268.91 945.64,268.31 946.27,267.72 946.91,267.13 947.55,266.54 948.20,265.96 948.85,265.37 949.50,264.79 950.16,264.21 950.83,263.63 951.49,263.05 952.16,262.48 952.84,261.90 953.52,261.33 954.20,260.76 954.89,260.19 955.58,259.63 956.27,259.06 956.97,258.50 957.67,257.94 958.38,257.38 959.09,256.82 959.80,256.27 960.52,255.72 961.24,255.16 961.97,254.61 962.70,254.07 963.43,253.52 964.17,252.98 964.91,252.43 965.65,251.89 966.40,251.35 967.15,250.82 967.91,250.28 968.66,249.75 969.43,249.22 970.19,248.69 970.96,248.16 971.74,247.63 972.51,247.11 973.29,246.59 974.08,246.07 974.86,245.55 975.66,245.03 976.45,244.52 977.25,244.01 978.05,243.50 978.85,242.99 979.66,242.48 980.47,241.98 981.29,241.47 982.11,240.97 982.93,240.47 983.76,239.98 984.58,239.48 985.42,238.99 986.25,238.50 987.09,238.01 987.93,237.52 988.78,237.03 989.62,236.55 990.48,236.07 991.33,235.59 992.19,235.11 993.05,234.63 993.91,234.16 994.78,233.69 995.65,233.22 996.52,232.75 997.40,232.28 998.28,231.82 999.16,231.36 1000.05,230.90 1000.94,230.44 1001.83,229.98 1002.72,229.53 1003.62,229.07 1004.52,228.62 1005.43,228.18 1006.33,227.73 1007.24,227.28 1008.16,226.84 1009.07,226.40 1009.99,225.96 1010.91,225.53 1011.83,225.09 1012.76,224.66 1013.69,224.23 1014.62,223.80 1015.56,223.37 1016.50,222.95 1017.44,222.53 1018.38,222.11 1019.33,221.69 1020.28,221.27 1021.23,220.86 1022.18,220.44 1023.14,220.03 1024.10,219.63 1025.06,219.22 1026.02,218.82 1026.99,218.41 1027.96,218.01 1028.93,217.62 1029.91,217.22 1030.89,216.83 1031.87,216.43 1032.85,216.04 1033.83,215.66 1034.82,215.27 1035.81,214.89 1036.80,214.50 1037.80,214.12 1038.79,213.75 1039.79,213.37 1040.80,213.00 1041.80,212.63 1042.81,212.26 1043.82,211.89 1044.83,211.53 1045.84,211.16 1046.86,210.80 1047.87,210.44 1048.89,210.09 1049.92,209.73 1050.94,209.38 1051.97,209.03 1053.00,208.68 1054.03,208.34 1055.06,207.99 1056.10,207.65 1057.13,207.31 1058.17,206.97 1059.21,206.64 1060.26,206.30 1061.30,205.97 1062.35,205.64 1063.40,205.32 1064.45,204.99 1065.51,204.67 1066.56,204.35 1067.62,204.03 1068.68,203.71 1069.74,203.40 1070.80,203.09 1071.87,202.78 1072.94,202.47 1074.01,202.17 1075.08,201.86 1076.15,201.56 1077.22,201.26 1078.30,200.97 1079.38,200.67 1080.46,200.38 1081.54,200.09 1082.62,199.80 1083.71,199.52 1084.79,199.23 1085.88,198.95 1086.97,198.67 1088.06,198.39 1089.16,198.12 1090.25,197.85 1091.35,197.58 1092.45,197.31 1093.55,197.04 1094.65,196.78 1095.75,196.52 1096.85,196.26 1097.96,196.00 1099.07,195.75 1100.18,195.49 1101.29,195.24 1102.40,195.00 1103.51,194.75 1104.62,194.51 1105.74,194.26 1106.86,194.03 1107.98,193.79 1109.10,193.55 1110.22,193.32 1111.34,193.09 1112.46,192.86 1113.59,192.64 1114.72,192.41 1115.84,192.19 1116.97,191.97 1118.10,191.76 1119.23,191.54 1120.37,191.33 1121.50,191.12 1122.63,190.91 1123.77,190.71 1124.91,190.51 1126.05,190.30 1127.19,190.11 1128.33,189.91 1129.47,189.72 1130.61,189.53 1131.75,189.34 1132.90,189.15 1134.04,188.96 1135.19,188.78 1136.34,188.60 1137.48,188.43 1138.63,188.25 1139.78,188.08 1140.94,187.91 1142.09,187.74 1143.24,187.57 1144.39,187.41 1145.55,187.25 1146.70,187.09 1147.86,186.93 1149.02,186.78 1150.17,186.63 1151.33,186.48 1152.49,186.33 1153.65,186.18 1154.81,186.04 1155.97,185.90 1157.14,185.76 1158.30,185.63 1159.46,185.50 1160.63,185.36 1161.79,185.24 1162.96,185.11 1164.12,184.99 1165.29,184.87 1166.46,184.75 1167.62,184.63 1168.79,184.52 1169.96,184.40 1171.13,184.30 1172.30,184.19 1173.47,184.08 1174.64,183.98 1175.81,183.88 1176.98,183.79 1178.15,183.69 1179.32,183.60 1180.50,183.51 1181.67,183.42 1182.84,183.34 1184.01,183.25 1185.19,183.17 1186.36,183.09 1187.54,183.02 1188.71,182.95 1189.88,182.88 1191.06,182.81 1192.23,182.74 1193.41,182.68 1194.58,182.62 1195.76,182.56 1196.93,182.50 1198.11,182.45 1199.29,182.40 1200.46,182.35 1201.64,182.30 1202.81,182.26 1203.99,182.22 1205.17,182.18 1206.34,182.15 1207.52,182.11 1208.69,182.08 1209.87,182.05 1211.05,182.03 1212.22,182.00 1213.40,181.98 1214.57,181.96 1215.75,181.95 1216.93,181.93 1218.10,181.92 1219.28,181.91 1220.45,181.91 1221.63,181.90 1222.80,181.90"/>
<line x1="903.3" y1="353.8" x2="1248" y2="353.8" stroke="#121313" stroke-width="3.8"/>
<path transform="translate(1257.80,353.80) rotate(0.00)" d="M0,0 L-13.3,-7.45 L-11.5,0 L-13.3,7.45 Z" fill="#161616"/>
<line x1="1146.9" y1="187.06" x2="1146.9" y2="354.3" stroke="#9B1FAA" stroke-width="3"/>
<line x1="904.3" y1="353.8" x2="858.5" y2="457.0" stroke="#121313" stroke-width="3.8"/>
<polygon fill="#FFC6CC" points="858.50,457.00 858.50,456.30 858.51,455.60 858.52,454.90 858.54,454.20 858.56,453.50 858.59,452.81 858.63,452.11 858.66,451.41 858.71,450.72 858.76,450.02 858.81,449.33 858.87,448.63 858.93,447.94 859.00,447.25 859.07,446.55 859.15,445.86 859.24,445.17 859.33,444.48 859.42,443.79 859.52,443.10 859.62,442.41 859.73,441.73 859.85,441.04 859.96,440.35 860.09,439.67 860.22,438.98 860.35,438.30 860.49,437.62 860.63,436.93 860.78,436.25 860.93,435.57 861.09,434.89 861.25,434.21 861.42,433.53 861.59,432.85 861.77,432.17 861.95,431.50 862.14,430.82 862.33,430.15 862.53,429.47 862.73,428.80 862.94,428.13 863.15,427.45 863.36,426.78 863.58,426.11 863.81,425.44 864.04,424.77 864.27,424.11 864.51,423.44 864.76,422.77 865.01,422.11 865.26,421.44 865.52,420.78 865.78,420.12 866.05,419.45 866.32,418.79 866.60,418.13 866.88,417.47 867.17,416.81 867.46,416.16 867.76,415.50 868.06,414.84 868.36,414.19 868.67,413.54 868.99,412.88 869.30,412.23 869.63,411.58 869.96,410.93 870.29,410.28 870.63,409.63 870.97,408.99 871.31,408.34 871.66,407.69 872.02,407.05 872.38,406.41 872.74,405.76 873.11,405.12 873.49,404.48 873.86,403.84 874.24,403.21 874.63,402.57 875.02,401.93 875.42,401.30 875.82,400.66 876.22,400.03 876.63,399.40 877.04,398.77 877.46,398.14 877.88,397.51 878.31,396.88 878.74,396.26 879.18,395.63 879.61,395.01 880.06,394.38 880.51,393.76 880.96,393.14 881.42,392.52 881.88,391.90 882.34,391.28 882.81,390.67 883.29,390.05 883.76,389.44 884.25,388.83 884.73,388.21 885.22,387.60 885.72,386.99 886.22,386.39 886.72,385.78 887.23,385.17 887.74,384.57 888.26,383.97 888.78,383.36 889.30,382.76 889.83,382.16 890.36,381.56 890.90,380.97 891.44,380.37 891.99,379.78 892.54,379.18 893.09,378.59 893.65,378.00 894.21,377.41 894.78,376.82 895.35,376.24 895.92,375.65 896.50,375.06 897.08,374.48 897.67,373.90 898.26,373.32 898.85,372.74 899.45,372.16 900.05,371.59 900.66,371.01 901.27,370.44 901.88,369.86 902.50,369.29 903.12,368.72 903.75,368.16 904.38,367.59 905.02,367.02 905.65,366.46 906.30,365.90 906.94,365.34 907.59,364.78 908.24,364.22 908.90,363.66 909.56,363.10 910.23,362.55 910.90,362.00 911.57,361.45 912.25,360.90 912.93,360.35 913.61,359.80 914.30,359.26 914.99,358.71 915.69,358.17 916.39,357.63 917.09,357.09 917.80,356.55 918.51,356.01 919.23,355.48 919.95,354.95 920.67,354.41 921.40,353.88 922.13,353.36 922.86,352.83 923.60,352.30 924.34,351.78 925.08,351.26 925.83,350.73 926.58,350.21 927.34,349.70 928.10,349.18 928.86,348.67 929.63,348.15 930.40,347.64 931.17,347.13 931.95,346.62 932.73,346.12 933.52,345.61 934.30,345.11 935.10,344.61 935.89,344.11 936.69,343.61 937.49,343.11 938.30,342.62 939.11,342.12 939.92,341.63 940.74,341.14 941.56,340.65 942.38,340.17 943.21,339.68 944.04,339.20 944.88,338.72 945.71,338.24 946.55,337.76 947.40,337.28 948.25,336.81 949.10,336.34 949.95,335.86 950.81,335.40 951.67,334.93 952.54,334.46 953.41,334.00 954.28,333.54 955.15,333.08 956.03,332.62 956.91,332.16 957.80,331.71 958.69,331.25 959.58,330.80 960.48,330.35 961.37,329.90 962.28,329.46 963.18,329.01 964.09,328.57 965.00,328.13 965.92,327.69 966.83,327.26 967.76,326.82 968.68,326.39 969.61,325.96 970.54,325.53 971.47,325.10 972.41,324.68 973.35,324.25 974.30,323.83 975.24,323.41 976.19,322.99 977.15,322.58 978.10,322.16 979.06,321.75 980.03,321.34 980.99,320.94 981.96,320.53 982.93,320.13 983.91,319.72 984.89,319.32 985.87,318.93 986.86,318.53 987.84,318.14 988.83,317.74 989.83,317.35 990.82,316.97 991.82,316.58 992.00,319.50 993.30,319.56 994.60,319.62 995.90,319.69 997.20,319.77 998.49,319.87 999.79,319.98 1001.08,320.11 1002.37,320.27 1003.65,320.45 1004.94,320.65 1006.22,320.86 1007.50,321.10 1008.77,321.35 1010.04,321.62 1011.31,321.91 1012.58,322.22 1013.84,322.54 1015.11,322.87 1016.36,323.22 1017.62,323.58 1018.87,323.95 1020.12,324.34 1021.37,324.73 1022.61,325.14 1023.85,325.56 1025.09,325.98 1026.32,326.41 1027.55,326.85 1028.78,327.30 1030.00,327.76 1031.22,328.22 1032.43,328.70 1033.64,329.18 1034.85,329.67 1036.05,330.18 1037.24,330.69 1038.43,331.21 1039.62,331.75 1040.80,332.30 1041.97,332.86 1043.14,333.43 1044.30,334.02 1045.45,334.61 1046.59,335.23 1047.73,335.85 1048.87,336.49 1049.99,337.15 1051.11,337.81 1052.21,338.50 1053.31,339.20 1054.40,339.91 1055.48,340.63 1056.55,341.38 1057.61,342.13 1058.66,342.90 1059.70,343.69 1060.73,344.49 1061.75,345.31 1062.75,346.14 1063.75,346.99 1064.73,347.85 1065.70,348.72 1066.66,349.61 1067.60,350.52 1068.53,351.44 1069.44,352.38 1070.33,353.34 1071.21,354.31 1072.06,355.29 1072.90,356.29 1073.71,357.31 1074.50,358.35 1075.26,359.40 1076.00,360.47 1076.72,361.55 1077.40,362.65 1078.06,363.77 1078.69,364.90 1079.30,366.04 1079.90,367.20 1080.48,368.36 1081.04,369.53 1081.60,370.71 1082.15,371.89 1082.70,373.08 1083.24,374.26 1083.79,375.44 1084.34,376.63 1084.90,377.80 1085.48,378.97 1086.06,380.14 1086.65,381.29 1087.25,382.45 1087.86,383.60 1088.48,384.74 1089.10,385.88 1089.73,387.02 1090.37,388.15 1091.01,389.28 1091.65,390.41 1092.29,391.54 1092.94,392.66 1093.59,393.79 1094.24,394.92 1094.89,396.05 1095.53,397.18 1096.17,398.31 1096.81,399.44 1097.45,400.58 1098.10,401.71 1098.75,402.84 1099.41,403.96 1100.09,405.07 1100.78,406.17 1101.49,407.25 1102.23,408.32 1102.99,409.37 1103.77,410.41 1104.57,411.43 1105.39,412.44 1106.22,413.43 1107.07,414.42 1107.92,415.41 1108.79,416.38 1109.65,417.36 1110.52,418.33 1111.39,419.31 1112.25,420.28 1113.11,421.26 1113.96,422.24 1114.81,423.22 1115.67,424.20 1116.52,425.18 1117.39,426.15 1118.26,427.12 1119.13,428.08 1120.02,429.02 1120.93,429.96 1121.84,430.89 1122.77,431.80 1123.72,432.69 1124.69,433.57 1125.67,434.42 1126.67,435.24 1127.70,436.04 1128.74,436.81 1129.80,437.56 1130.88,438.28 1131.98,438.97 1133.09,439.65 1134.22,440.30 1135.36,440.93 1136.51,441.55 1137.67,442.14 1138.84,442.72 1140.02,443.29 1141.21,443.84 1142.41,444.38 1143.60,444.90 1144.81,445.42 1146.02,445.93 1147.23,446.42 1148.44,446.91 1149.65,447.39 1150.87,447.85 1152.09,448.31 1153.32,448.75 1154.55,449.18 1155.78,449.60 1157.02,450.00 1158.25,450.40 1159.50,450.77 1160.74,451.14 1161.99,451.49 1163.25,451.82 1164.50,452.14 1165.77,452.45 1167.03,452.73 1168.30,453.00 1169.58,453.26 1170.85,453.51 1172.13,453.74 1173.41,453.96 1174.70,454.18 1175.98,454.39 1177.27,454.59 1178.55,454.78 1179.84,454.98 1181.13,455.17 1182.42,455.36 1183.70,455.54 1184.99,455.73 1186.28,455.91 1187.56,456.10 1188.85,456.28 1190.14,456.46 1191.43,456.64 1192.71,456.82 1194.00,457.00 858.5,457.0"/>
<line x1="1079.9" y1="292.97" x2="1079.9" y2="457.0" stroke="#D9261E" stroke-width="2.8"/>
<polyline fill="none" stroke="#121313" stroke-width="4.4" points="858.50,457.00 858.50,456.30 858.51,455.60 858.52,454.90 858.54,454.20 858.56,453.50 858.59,452.81 858.63,452.11 858.66,451.41 858.71,450.72 858.76,450.02 858.81,449.33 858.87,448.63 858.93,447.94 859.00,447.25 859.07,446.55 859.15,445.86 859.24,445.17 859.33,444.48 859.42,443.79 859.52,443.10 859.62,442.41 859.73,441.73 859.85,441.04 859.96,440.35 860.09,439.67 860.22,438.98 860.35,438.30 860.49,437.62 860.63,436.93 860.78,436.25 860.93,435.57 861.09,434.89 861.25,434.21 861.42,433.53 861.59,432.85 861.77,432.17 861.95,431.50 862.14,430.82 862.33,430.15 862.53,429.47 862.73,428.80 862.94,428.13 863.15,427.45 863.36,426.78 863.58,426.11 863.81,425.44 864.04,424.77 864.27,424.11 864.51,423.44 864.76,422.77 865.01,422.11 865.26,421.44 865.52,420.78 865.78,420.12 866.05,419.45 866.32,418.79 866.60,418.13 866.88,417.47 867.17,416.81 867.46,416.16 867.76,415.50 868.06,414.84 868.36,414.19 868.67,413.54 868.99,412.88 869.30,412.23 869.63,411.58 869.96,410.93 870.29,410.28 870.63,409.63 870.97,408.99 871.31,408.34 871.66,407.69 872.02,407.05 872.38,406.41 872.74,405.76 873.11,405.12 873.49,404.48 873.86,403.84 874.24,403.21 874.63,402.57 875.02,401.93 875.42,401.30 875.82,400.66 876.22,400.03 876.63,399.40 877.04,398.77 877.46,398.14 877.88,397.51 878.31,396.88 878.74,396.26 879.18,395.63 879.61,395.01 880.06,394.38 880.51,393.76 880.96,393.14 881.42,392.52 881.88,391.90 882.34,391.28 882.81,390.67 883.29,390.05 883.76,389.44 884.25,388.83 884.73,388.21 885.22,387.60 885.72,386.99 886.22,386.39 886.72,385.78 887.23,385.17 887.74,384.57 888.26,383.97 888.78,383.36 889.30,382.76 889.83,382.16 890.36,381.56 890.90,380.97 891.44,380.37 891.99,379.78 892.54,379.18 893.09,378.59 893.65,378.00 894.21,377.41 894.78,376.82 895.35,376.24 895.92,375.65 896.50,375.06 897.08,374.48 897.67,373.90 898.26,373.32 898.85,372.74 899.45,372.16 900.05,371.59 900.66,371.01 901.27,370.44 901.88,369.86 902.50,369.29 903.12,368.72 903.75,368.16 904.38,367.59 905.02,367.02 905.65,366.46 906.30,365.90 906.94,365.34 907.59,364.78 908.24,364.22 908.90,363.66 909.56,363.10 910.23,362.55 910.90,362.00 911.57,361.45 912.25,360.90 912.93,360.35 913.61,359.80 914.30,359.26 914.99,358.71 915.69,358.17 916.39,357.63 917.09,357.09 917.80,356.55 918.51,356.01 919.23,355.48 919.95,354.95 920.67,354.41 921.40,353.88 922.13,353.36 922.86,352.83 923.60,352.30 924.34,351.78 925.08,351.26 925.83,350.73 926.58,350.21 927.34,349.70 928.10,349.18 928.86,348.67 929.63,348.15 930.40,347.64 931.17,347.13 931.95,346.62 932.73,346.12 933.52,345.61 934.30,345.11 935.10,344.61 935.89,344.11 936.69,343.61 937.49,343.11 938.30,342.62 939.11,342.12 939.92,341.63 940.74,341.14 941.56,340.65 942.38,340.17 943.21,339.68 944.04,339.20 944.88,338.72 945.71,338.24 946.55,337.76 947.40,337.28 948.25,336.81 949.10,336.34 949.95,335.86 950.81,335.40 951.67,334.93 952.54,334.46 953.41,334.00 954.28,333.54 955.15,333.08 956.03,332.62 956.91,332.16 957.80,331.71 958.69,331.25 959.58,330.80 960.48,330.35 961.37,329.90 962.28,329.46 963.18,329.01 964.09,328.57 965.00,328.13 965.92,327.69 966.83,327.26 967.76,326.82 968.68,326.39 969.61,325.96 970.54,325.53 971.47,325.10 972.41,324.68 973.35,324.25 974.30,323.83 975.24,323.41 976.19,322.99 977.15,322.58 978.10,322.16 979.06,321.75 980.03,321.34 980.99,320.94 981.96,320.53 982.93,320.13 983.91,319.72 984.89,319.32 985.87,318.93 986.86,318.53 987.84,318.14 988.83,317.74 989.83,317.35 990.82,316.97 991.82,316.58 992.83,316.20 993.83,315.81 994.84,315.43 995.85,315.06 996.87,314.68 997.89,314.31 998.91,313.94 999.93,313.57 1000.96,313.20 1001.99,312.83 1003.02,312.47 1004.06,312.11 1005.10,311.75 1006.14,311.39 1007.18,311.04 1008.23,310.69 1009.28,310.34 1010.33,309.99 1011.39,309.64 1012.45,309.30 1013.51,308.96 1014.57,308.62 1015.64,308.28 1016.71,307.94 1017.78,307.61 1018.86,307.28 1019.94,306.95 1021.02,306.62 1022.10,306.30 1023.19,305.98 1024.28,305.66 1025.37,305.34 1026.47,305.02 1027.56,304.71 1028.66,304.40 1029.77,304.09 1030.87,303.78 1031.98,303.48 1033.09,303.18 1034.21,302.88 1035.32,302.58 1036.44,302.28 1037.57,301.99 1038.69,301.70 1039.82,301.41 1040.95,301.12 1042.08,300.84 1043.21,300.56 1044.35,300.28 1045.49,300.00 1046.64,299.73 1047.78,299.46 1048.93,299.19 1050.08,298.92 1051.23,298.65 1052.39,298.39 1053.55,298.13 1054.71,297.87 1055.87,297.62 1057.04,297.36 1058.21,297.11 1059.38,296.87 1060.55,296.62 1061.73,296.38 1062.91,296.13 1064.09,295.90 1065.27,295.66 1066.45,295.43 1067.64,295.19 1068.83,294.97 1070.03,294.74 1071.22,294.51 1072.42,294.29 1073.62,294.07 1074.82,293.86 1076.03,293.64 1077.23,293.43 1078.44,293.22 1079.66,293.02 1080.87,292.81 1082.09,292.61 1083.31,292.41 1084.53,292.21 1085.75,292.02 1086.98,291.83 1088.20,291.64 1089.43,291.45 1090.67,291.27 1091.90,291.09 1093.14,290.91 1094.38,290.73 1095.62,290.56 1096.86,290.39 1098.11,290.22 1099.36,290.05 1100.61,289.89 1101.86,289.73 1103.12,289.57 1104.37,289.42 1105.63,289.27 1106.89,289.12 1108.16,288.97 1109.42,288.82 1110.69,288.68 1111.96,288.54 1113.23,288.41 1114.51,288.27 1115.78,288.14 1117.06,288.01 1118.34,287.89 1119.62,287.76 1120.91,287.64 1122.20,287.52 1123.48,287.41 1124.77,287.30 1126.07,287.19 1127.36,287.08 1128.66,286.97 1129.96,286.87 1131.26,286.77 1132.56,286.68 1133.86,286.59 1135.17,286.50 1136.48,286.41 1137.79,286.32 1139.10,286.24 1140.42,286.16 1141.73,286.08 1143.05,286.01 1144.37,285.94 1145.69,285.87 1147.02,285.81 1148.34,285.74 1149.67,285.69 1151.00,285.63 1152.33,285.57 1153.66,285.52 1155.00,285.48 1156.34,285.43 1157.67,285.39 1159.01,285.35 1160.36,285.31 1161.70,285.28 1163.05,285.25 1164.39,285.22 1165.74,285.19 1167.09,285.17 1168.45,285.15 1169.80,285.14 1171.16,285.12 1172.52,285.11 1173.88,285.11 1175.24,285.10 1176.60,285.10"/>
<line x1="857.5" y1="457.0" x2="1200" y2="457.0" stroke="#121313" stroke-width="3.8"/>
<path transform="translate(1210.00,457.00) rotate(0.00)" d="M0,0 L-13.3,-7.45 L-11.5,0 L-13.3,7.45 Z" fill="#161616"/>
<line x1="858.5" y1="457.0" x2="851" y2="473" stroke="#121313" stroke-width="3.8"/>
<path transform="translate(847.20,484.00) rotate(114.50)" d="M0,0 L-13.3,-7.45 L-11.5,0 L-13.3,7.45 Z" fill="#161616"/>
<line x1="1213.7" y1="253.6" x2="1117" y2="455.5" stroke="#3A2D9C" stroke-width="3.1" stroke-dasharray="12.1 2.7"/>
<line x1="1146.9" y1="353.8" x2="1094.4" y2="455.5" stroke="#9B1FAA" stroke-width="3.1" stroke-dasharray="12.1 2.7"/>
<text transform="translate(844.283,37.006) scale(0.96208,0.97087)" style="font-size:53.787px;fill:#121313;stroke:#121313;font-weight:bold;stroke-width:1.1px;">b</text>
<text transform="translate(894.523,38.335) scale(0.97737,1.00000)" style="font-size:38.372px;fill:#121313;stroke:#121313;">Sommerfeld contribution</text>
<text transform="translate(875.678,92.520) scale(0.87145,1.00000)" style="font-size:33.757px;fill:#121313;stroke:#121313;">DOS</text>
<text transform="translate(924.056,264.204) scale(0.98627,1.00000)" style="font-size:33.333px;fill:#121313;stroke:#121313;">0</text>
<text transform="translate(1293.684,285.588) scale(0.68033,0.96373)" style="font-size:36.192px;fill:#121313;stroke:#121313;font-style:italic;">E</text>
<text transform="translate(1216.419,280.894) scale(0.94226,0.96723)" style="font-size:36.100px;fill:#3A2D9C;stroke:#3A2D9C;font-style:italic;">μ</text>
<text transform="translate(1237.130,280.754) scale(1.03945,1.00000)" style="font-size:20.339px;fill:#3A2D9C;stroke:#3A2D9C;">0</text>
<text transform="translate(1114.627,344.441) scale(0.96797,0.96555)" style="font-size:35.267px;fill:#9B1FAA;stroke:#9B1FAA;font-style:italic;">μ</text>
<text transform="translate(1134.964,343.819) scale(0.59510,1.00000)" style="font-size:20.495px;fill:#9B1FAA;stroke:#9B1FAA;">1</text>
<text transform="translate(1057.226,484.681) scale(0.98422,0.96723)" style="font-size:36.100px;fill:#D9261E;stroke:#D9261E;font-style:italic;">μ</text>
<text transform="translate(1077.960,484.583) scale(0.89155,1.00000)" style="font-size:21.339px;fill:#D9261E;stroke:#D9261E;">2</text>
<text transform="translate(871.243,362.353) scale(0.73472,0.98952)" style="font-size:36.919px;fill:#9B1FAA;stroke:#9B1FAA;font-style:italic;">T</text>
<text transform="translate(888.490,362.716) scale(0.65047,1.00000)" style="font-size:20.931px;fill:#9B1FAA;stroke:#9B1FAA;">1</text>
<text transform="translate(821.405,464.463) scale(0.71590,0.95236)" style="font-size:37.501px;fill:#D9261E;stroke:#D9261E;font-style:italic;">T</text>
<text transform="translate(838.931,464.476) scale(0.94793,1.00000)" style="font-size:20.623px;fill:#D9261E;stroke:#D9261E;">2</text>
<text transform="translate(829.128,510.077) scale(0.75459,0.96600)" style="font-size:36.338px;fill:#121313;stroke:#121313;font-style:italic;">T</text>
</svg></body></html>
